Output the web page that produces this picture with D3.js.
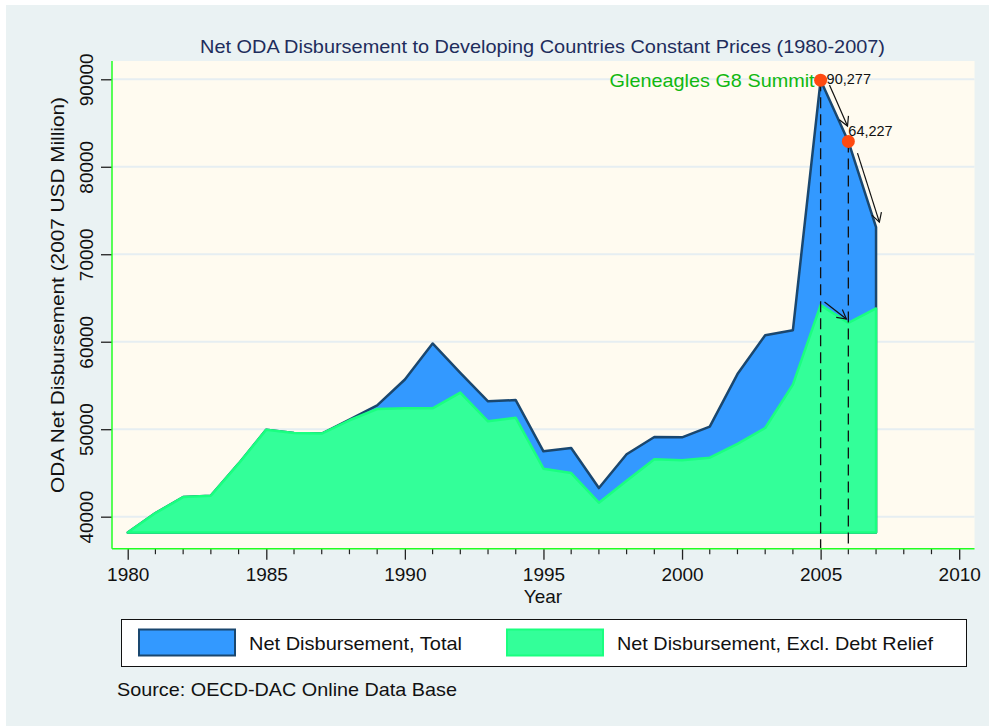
<!DOCTYPE html>
<html>
<head>
<meta charset="utf-8">
<script src="https://cdn.jsdelivr.net/npm/d3@7"></script>
<style>
  html, body { margin: 0; padding: 0; background: #fff; }
  svg { display: block; font-family: "Liberation Sans", Arial, sans-serif; }
</style>
</head>
<body>
<svg id="chart" width="989" height="726"></svg>
<script>
/* Net ODA disbursement, stacked-look area chart in Stata s2color style. */

var years = [1980, 1981, 1982, 1983, 1984, 1985, 1986, 1987, 1988, 1989,
  1990, 1991, 1992, 1993, 1994, 1995, 1996, 1997, 1998, 1999,
  2000, 2001, 2002, 2003, 2004, 2005, 2006, 2007];
var totalValues = [38200, 40410, 42240, 42400, 46060, 49950, 49570, 49500, 51100, 52730,
  55680, 59800, 56430, 53190, 53330, 47470, 47850, 43270, 47130, 49110,
  49070, 50300, 56300, 60750, 61320, 89900, 82900, 73100];
var exclDebtValues = [38200, 40410, 42240, 42400, 46060, 49950, 49570, 49500, 51020, 52310,
  52390, 52390, 54190, 50900, 51300, 45490, 44990, 41600, 44100, 46560,
  46440, 46750, 48330, 50140, 55100, 64180, 62150, 63800];
var xTicks = [1980, 1985, 1990, 1995, 2000, 2005, 2010];
var yTicks = [40000, 50000, 60000, 70000, 80000, 90000];
var seriesNames = ["Net Disbursement, Total", "Net Disbursement, Excl. Debt Relief"];
var markedYears = [2005, 2006];
var markedLabels = ["90,277", "64,227"];
// annotation arrows as [year0, value0, year1, value1]
var arrows = [
  [2005.32, 89350, 2005.97, 84650],
  [2006.33, 81560, 2007.12, 73670],
  [2005.14, 64540, 2005.93, 62600]
];

var c = {
  outer: "#eaf2f3", plot: "#fffbf0", grid: "#e6eef2",
  blue: "#3399ff", navy: "#1a476f", green: "#33ff99", greenLine: "#1aff80",
  axis: "#22ff22", dot: "#ff4a10", title: "#1e2d5c", note: "#11b811"
};

var svg = d3.select("#chart");
var plot = { left: 112, right: 974.5, top: 61, bottom: 548.7 };

// Stata text runs a little wider than Liberation Sans, so stretch to the measured widths
function fit(sel, width) {
  return sel.attr("textLength", width).attr("lengthAdjust", "spacingAndGlyphs");
}

svg.append("rect").attr("x", 6).attr("y", 5).attr("width", 983).attr("height", 721).attr("fill", c.outer);
svg.append("rect").attr("x", plot.left).attr("y", plot.top)
  .attr("width", plot.right - plot.left).attr("height", plot.bottom - plot.top).attr("fill", c.plot);

var x = d3.scaleLinear().domain([1979.433, 2010.552]).range([plot.left, plot.right]);
var y = d3.scaleLinear().domain([36340, 92090]).range([plot.bottom, plot.top]);

// grid
svg.append("g").selectAll("line").data(yTicks).join("line")
  .attr("x1", plot.left).attr("x2", plot.right)
  .attr("y1", function (d) { return y(d); }).attr("y2", function (d) { return y(d); })
  .attr("stroke", c.grid).attr("stroke-width", 2);

var base = d3.min(exclDebtValues);
function polygon(vals) {
  var pts = years.map(function (yr, i) { return [x(yr), y(vals[i])]; });
  pts.push([x(years[years.length - 1]), y(base)]);
  pts.push([x(years[0]), y(base)]);
  return pts;
}
var line = d3.line();

svg.append("path").attr("d", line(polygon(totalValues)) + "Z")
  .attr("fill", c.blue).attr("stroke", c.navy).attr("stroke-width", 2.5).attr("stroke-linejoin", "round");
svg.append("path").attr("d", line(polygon(exclDebtValues)) + "Z")
  .attr("fill", c.green).attr("stroke", c.greenLine).attr("stroke-width", 2.5).attr("stroke-linejoin", "round");

// dashed drop lines
svg.append("g").selectAll("line").data(markedYears).join("line")
  .attr("x1", function (d) { return x(d); }).attr("x2", function (d) { return x(d); })
  .attr("y1", function (d) { return y(totalValues[years.indexOf(d)]); })
  .attr("y2", plot.bottom)
  .attr("stroke", "#111").attr("stroke-width", 1.3).attr("stroke-dasharray", "11,6");

// arrows
svg.append("defs").append("marker")
  .attr("id", "arr").attr("markerUnits", "userSpaceOnUse")
  .attr("viewBox", "-10 -6 12 12").attr("refX", 0).attr("refY", 0)
  .attr("markerWidth", 12).attr("markerHeight", 12).attr("orient", "auto")
  .append("path").attr("d", "M-9,-5L0,0L-9,5").attr("fill", "none").attr("stroke", "#111").attr("stroke-width", 1.2);
svg.append("g").selectAll("line").data(arrows).join("line")
  .attr("x1", function (d) { return x(d[0]); }).attr("y1", function (d) { return y(d[1]); })
  .attr("x2", function (d) { return x(d[2]); }).attr("y2", function (d) { return y(d[3]); })
  .attr("stroke", "#111").attr("stroke-width", 1.2).attr("marker-end", "url(#arr)");

// marked points
svg.append("g").selectAll("circle").data(markedYears).join("circle")
  .attr("cx", function (d) { return x(d); })
  .attr("cy", function (d) { return y(totalValues[years.indexOf(d)]); })
  .attr("r", 6.5).attr("fill", c.dot);
svg.append("g").selectAll("text").data(markedYears).join("text")
  .attr("x", function (d, i) { return x(d) + (i === 0 ? 6 : 0); })
  .attr("y", function (d, i) { return y(totalValues[years.indexOf(d)]) + (i === 0 ? 3.5 : -5.5); })
  .attr("font-size", 14.5).attr("fill", "#111")
  .text(function (d, i) { return markedLabels[i]; });

fit(svg.append("text").attr("x", x(2005) - 211).attr("y", y(totalValues[years.indexOf(2005)]) + 6.8)
  .attr("font-size", 19).attr("fill", c.note)
  .text("Gleneagles G8 Summit"), 205);

// axes
var xAxis = svg.append("g").attr("transform", "translate(0," + plot.bottom + ")")
  .call(d3.axisBottom(x).tickValues(xTicks).tickSize(11).tickPadding(7.5).tickFormat(d3.format("d")));
xAxis.select(".domain").remove();
xAxis.selectAll("line").attr("stroke", "#222").attr("stroke-width", 1.3);
xAxis.selectAll("text").attr("font-size", 19).attr("fill", "#111");
svg.append("g").selectAll("line").data(d3.range(1980, 2011).filter(function (d) { return d % 5; })).join("line")
  .attr("x1", function (d) { return x(d); }).attr("x2", function (d) { return x(d); })
  .attr("y1", plot.bottom).attr("y2", plot.bottom + 5.5)
  .attr("stroke", "#222").attr("stroke-width", 1.2);

var yAxis = svg.append("g").attr("transform", "translate(" + plot.left + ",0)")
  .call(d3.axisLeft(y).tickValues(yTicks).tickSize(11).tickFormat(d3.format("d")));
yAxis.select(".domain").remove();
yAxis.selectAll("line").attr("stroke", "#222").attr("stroke-width", 1.3);
yAxis.selectAll("text").attr("transform", "rotate(-90)")
  .attr("x", 0).attr("y", -19).attr("dy", 0).attr("text-anchor", "middle")
  .attr("font-size", 19).attr("fill", "#111");

svg.append("line").attr("x1", plot.left).attr("x2", plot.left).attr("y1", plot.top).attr("y2", plot.bottom)
  .attr("stroke", c.axis).attr("stroke-width", 1.5);
svg.append("line").attr("x1", plot.left).attr("x2", plot.right).attr("y1", plot.bottom).attr("y2", plot.bottom)
  .attr("stroke", c.axis).attr("stroke-width", 1.5);

// titles
fit(svg.append("text").attr("x", 200).attr("y", 53)
  .attr("font-size", 18.5).attr("fill", c.title)
  .text("Net ODA Disbursement to Developing Countries Constant Prices (1980-2007)"), 685);
svg.append("text").attr("x", 543).attr("y", 603).attr("text-anchor", "middle")
  .attr("font-size", 19).attr("fill", "#111").text("Year");
fit(svg.append("text").attr("transform", "translate(64,493) rotate(-90)")
  .attr("font-size", 19).attr("fill", "#111").text("ODA Net Disbursement (2007 USD Million)"), 396);

// legend
var lg = svg.append("g");
lg.append("rect").attr("x", 121.5).attr("y", 619.5).attr("width", 845).attr("height", 47)
  .attr("fill", "#fff").attr("stroke", "#111").attr("stroke-width", 1);
var legendItems = [
  { name: seriesNames[0], fill: c.blue, stroke: c.navy, sx: 139, tx: 249, w: 213 },
  { name: seriesNames[1], fill: c.green, stroke: c.greenLine, sx: 507, tx: 617, w: 316 }
];
legendItems.forEach(function (d) {
  lg.append("rect").attr("x", d.sx).attr("y", 629.5).attr("width", 96).attr("height", 26)
    .attr("fill", d.fill).attr("stroke", d.stroke).attr("stroke-width", 2);
  fit(lg.append("text").attr("x", d.tx).attr("y", 650).attr("font-size", 19).attr("fill", "#111").text(d.name), d.w);
});

fit(svg.append("text").attr("x", 117).attr("y", 696)
  .attr("font-size", 19).attr("fill", "#111")
  .text("Source: OECD-DAC Online Data Base"), 340);
</script>
</body>
</html>
